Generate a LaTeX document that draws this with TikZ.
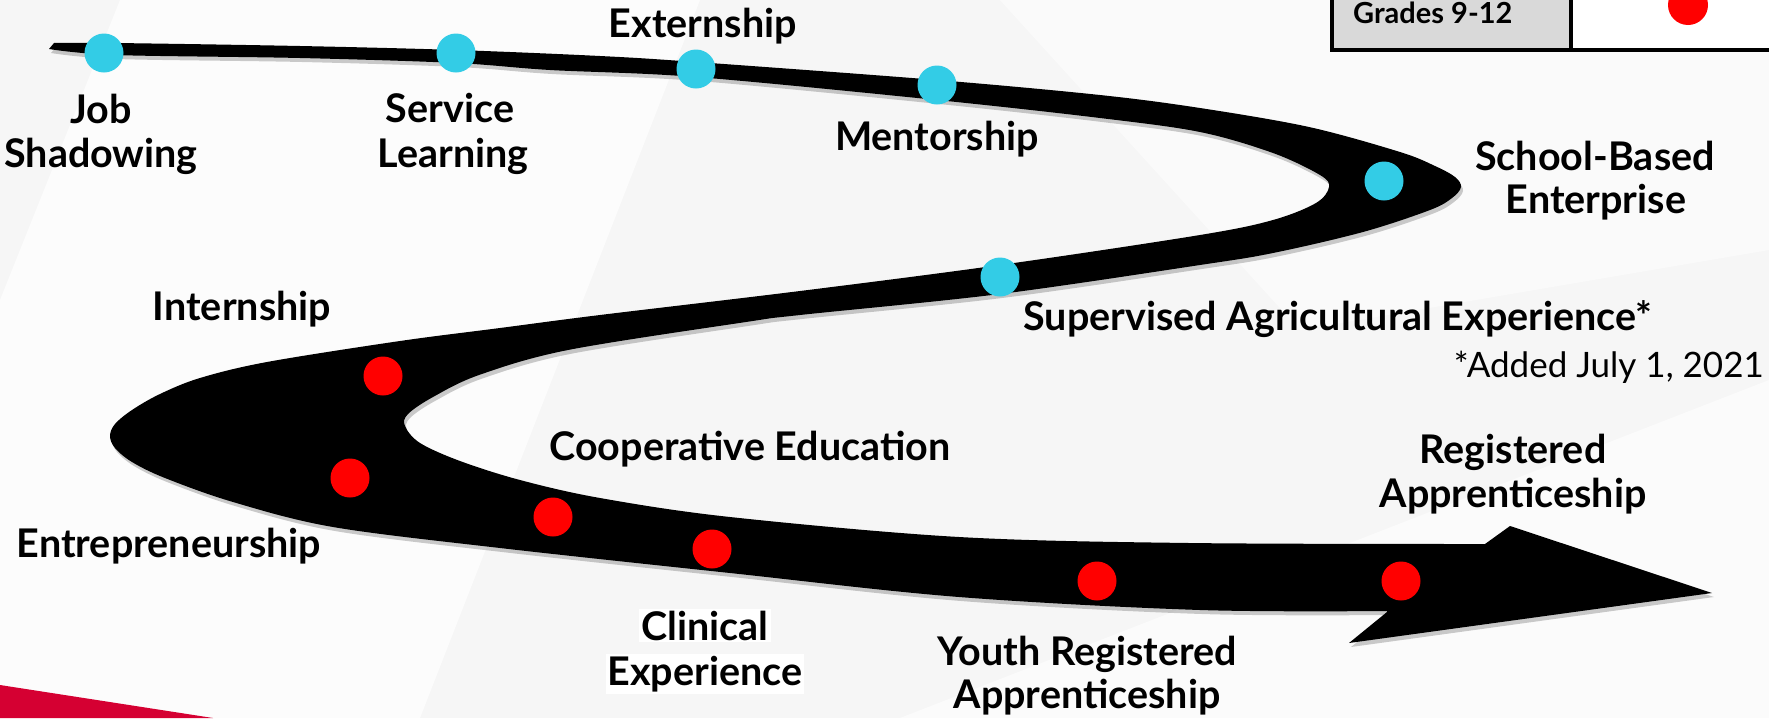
\documentclass[tikz,border=0pt]{standalone}
\usepackage{fontspec}
\setmainfont{Lato}
\definecolor{dotblue}{RGB}{51,204,230}
\definecolor{dotred}{RGB}{255,0,0}
\definecolor{cellgray}{RGB}{217,217,217}
\definecolor{crimson}{RGB}{213,0,50}
\definecolor{bgbase}{RGB}{246,246,246}
\newcommand\bandoutline{%
(49,49) -- plot[smooth, tension=0.55] coordinates {(54,43) (115,43) (300,46) (456,50) (600,56) (696,62) (937,80) (1100,95) (1200,108) (1309,127) (1400,152) (1435,166) (1455,177) (1461,187) (1452,198) (1430,210) (1363,232) (1273,253) (1200,265) (1000,294) (800,315) (746,322) (568,350) (479,375) (433,397) (408,414) (405,426) (420,443) (460,461) (520,480) (600,498) (730,517) (959,537) (1189,543) (1485,544)}
-- (1510,526) -- (1712,593) -- (1349,643) -- (1387,612)
-- plot[smooth, tension=0.55] coordinates {(1387,611) (1200,610) (959,597) (730,573) (500,548) (333,527) (233,502) (165,478) (132,462) (115,448) (110,436) (115,424) (132,410) (160,394) (200,378) (267,362) (400,341) (500,328) (600,315) (800,291) (1000,265) (1200,235) (1273,220) (1316,203) (1329,187) (1320,175) (1273,153) (1200,132) (1100,118) (937,100) (696,77) (550,70) (456,63) (300,58) (115,55) (49,49)} -- cycle}
\tikzset{
  lbl/.style={font=\bfseries\fontsize{39.5}{42}\selectfont, inner sep=0pt, anchor=base},
  note/.style={font=\fontsize{35}{38}\selectfont, inner sep=0pt, anchor=base east},
  bdot/.style={circle, fill=dotblue, minimum size=39pt, inner sep=0pt},
  rdot/.style={circle, fill=dotred, minimum size=39pt, inner sep=0pt},
}
\begin{document}
\begin{tikzpicture}[x=1pt, y=-1pt]
\useasboundingbox (0,0) rectangle (1769,718);
\clip (0,0) rectangle (1769,718);
% background
\fill[bgbase] (0,0) rectangle (1769,718);
\fill[white, opacity=0.7] (120,0) -- (700,0) -- (420,718) -- (0,718) -- (0,300) -- cycle;
\fill[white, opacity=0.6] (900,718) -- (1769,380) -- (1769,718) -- cycle;
\fill[white, opacity=0.5] (1000,0) -- (1769,0) -- (1769,250) -- (1300,330) -- cycle;
\fill[crimson] (0,685) -- (213,718) -- (0,718) -- cycle;
% band
\fill[black, opacity=0.2, shift={(2,4)}] \bandoutline;
\fill[black] \bandoutline;
% legend cell
\draw[line width=3.5pt, fill=cellgray] (1332,-10) rectangle (1571,50);
\draw[line width=3.5pt, fill=white] (1571,-10) rectangle (1790,50);
\node[font=\bfseries\fontsize{29}{31}\selectfont, inner sep=0pt, anchor=base west] (grades) at (1353,23) {Grades 9-12};
\node[rdot, minimum size=40pt] (legdot) at (1688,5) {};
% dots
\node[bdot] (djs) at (104,53) {};
\node[bdot] (dsl) at (456,53) {};
\node[bdot] (dex) at (696,69) {};
\node[bdot] (dme) at (937,85) {};
\node[bdot] (dsb) at (1384,181) {};
\node[bdot] (dsa) at (1000,277) {};
\node[rdot] (din) at (383,376) {};
\node[rdot] (den) at (350,478) {};
\node[rdot] (dco) at (553,517) {};
\node[rdot] (dcl) at (712,549) {};
\node[rdot] (dyr) at (1097,581) {};
\node[rdot] (dra) at (1401,581) {};
% labels
\node[lbl] (ljs1) at (101,123) {Job};
\node[lbl] (ljs2) at (101,167) {Shadowing};
\node[lbl] (lsl1) at (450,122) {Service};
\node[lbl] (lsl2) at (453,167) {Learning};
\node[lbl] (lex) at (703,37) {Externship};
\node[lbl] (lme) at (937,150) {Mentorship};
\node[lbl] (lsb1) at (1595,170) {School-Based};
\node[lbl] (lsb2) at (1596,213) {Enterprise};
\node[lbl] (lsa) at (1338,330) {Supervised Agricultural Experience*};
\node[note] (ladd) at (1764,377) {*Added July 1, 2021};
\node[lbl] (lin) at (242,320) {Internship};
\node[lbl] (len) at (169,557) {Entrepreneurship};
\node[lbl] (lco) at (750,460) {Cooperative Education};
\node[lbl, fill=white, inner sep=2pt] (lcl1) at (705,640) {Clinical};
\node[lbl, fill=white, inner sep=2pt] (lcl2) at (705,685) {Experience};
\node[lbl] (lyr1) at (1087,665) {Youth Registered};
\node[lbl] (lyr2) at (1087,708) {Apprenticeship};
\node[lbl] (lra1) at (1513,463) {Registered};
\node[lbl] (lra2) at (1513,507) {Apprenticeship};
\end{tikzpicture}
\end{document}
